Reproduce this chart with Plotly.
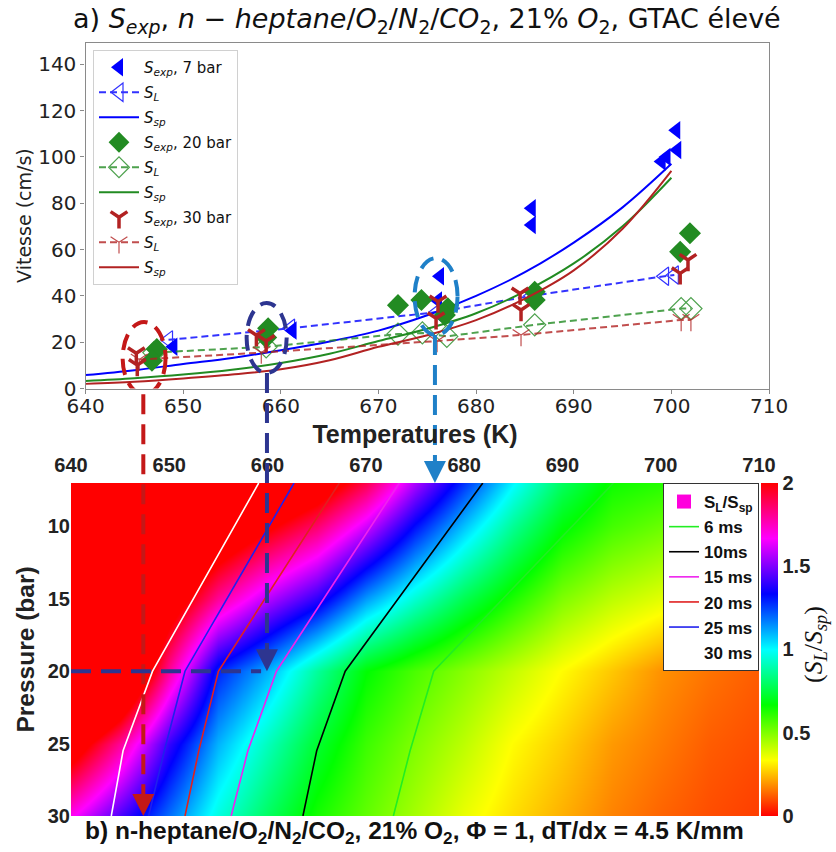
import plotly.graph_objects as go

# ---------------- top panel data (a) ----------------
T_exp7 = [649.0, 661.2, 676.3, 676.1, 685.7, 685.7, 700.5, 700.6, 699.5, 699.0]
V_exp7 = [18.0, 25.0, 48.5, 38.0, 77.8, 70.6, 111.5, 103.0, 100.0, 98.0]
T_SL7 = [648.5, 661.0, 676.0, 685.7, 699.3, 700.3]
V_SL7 = [21.0, 26.0, 33.0, 40.0, 48.5, 49.0]

T_exp20 = [647.3, 646.8, 658.7, 658.5, 672.0, 674.4, 677.1, 676.8, 686.0, 686.0, 701.9, 700.9]
V_exp20 = [17.0, 12.0, 26.0, 22.0, 36.0, 38.2, 34.6, 31.7, 41.8, 38.2, 67.0, 59.0]
T_SL20 = [647.0, 658.5, 672.0, 674.5, 677.0, 686.0, 701.0, 702.0]
V_SL20 = [15.5, 18.0, 23.5, 24.0, 22.5, 27.5, 34.5, 34.5]

T_exp30 = [645.2, 645.3, 657.5, 658.5, 676.1, 675.9, 684.5, 684.6, 701.7, 700.9]
V_exp30 = [15.2, 10.1, 23.0, 20.5, 37.5, 30.3, 41.0, 33.9, 55.5, 49.7]
T_SL30 = [645.5, 658.0, 676.0, 684.6, 701.0, 702.0]
V_SL30 = [12.5, 15.5, 20.5, 23.1, 29.6, 29.6]

T_sp = [640, 645, 650, 655, 660, 665, 670, 675, 680, 685, 690, 695, 700]
V_sp7 = [5.8, 7.9, 10.6, 13.2, 16.5, 20.3, 25.0, 31.6, 40.0, 50.2, 63.0, 78.2, 97.0]
V_sp20 = [3.2, 4.4, 6.0, 8.1, 11.0, 15.0, 20.5, 25.8, 32.5, 41.9, 54.0, 70.0, 91.0]
V_sp30 = [2.0, 2.9, 4.3, 6.0, 8.3, 12.2, 18.0, 23.0, 29.5, 38.8, 51.0, 69.0, 94.0]

# ---------------- bottom panel data (b) ----------------
T_grid = [640, 645, 650, 655, 660, 665, 670, 675, 680, 685, 690, 695, 700, 705, 710]
P_grid = [7, 10, 15, 20, 25, 30]
ratio_P7 = [2.8, 2.7, 2.6, 2.45, 2.29, 2.14, 1.90, 1.56, 1.27, 1.01, 0.79, 0.65, 0.62, 0.58, 0.53]
ratio_P10 = [2.8, 2.67, 2.43, 2.22, 2.03, 1.86, 1.61, 1.32, 1.08, 0.86, 0.68, 0.58, 0.53, 0.48, 0.44]
ratio_P15 = [2.8, 2.53, 2.14, 1.80, 1.57, 1.39, 1.13, 0.94, 0.77, 0.63, 0.50, 0.42, 0.37, 0.32, 0.28]
ratio_P20 = [2.8, 2.40, 1.80, 1.29, 1.10, 0.87, 0.67, 0.57, 0.49, 0.41, 0.33, 0.26, 0.19, 0.15, 0.12]
ratio_P25 = [2.13, 1.80, 1.40, 1.10, 0.91, 0.73, 0.59, 0.50, 0.42, 0.33, 0.27, 0.20, 0.16, 0.12, 0.10]
ratio_P30 = [1.68, 1.43, 1.19, 0.96, 0.79, 0.64, 0.54, 0.45, 0.36, 0.29, 0.23, 0.17, 0.13, 0.10, 0.08]

P_ct = [7, 20, 25.5, 30]
ct_labels = ["6 ms", "10ms", "15 ms", "20 ms", "25 ms", "30 ms"]
T_6ms = [695.2, 676.9, 674.5, 672.8]
T_10ms = [681.9, 667.9, 665.0, 663.6]
T_15ms = [673.4, 660.9, 658.0, 656.3]
T_20ms = [667.3, 655.0, 653.0, 651.6]
T_25ms = [662.7, 651.6, 649.5, 647.9]
T_30ms = [659.1, 648.3, 645.3, 644.1]

# guide markers (circles on panel a, arrows to panel b)
T_mark_b = [647.36, 659.94, 677.03]     # vertical guide lines, panel b axis
P_mark = [30, 20, 7]                    # arrow tips on panel b

# ---------------- geometry ----------------
X1 = [0.1023, 0.9199]
Y1 = [0.5440, 0.9499]
X2 = [0.0849, 0.9079]
Y2 = [0.0423, 0.4331]
YMAX = 149.3

def xb(T):
    return X2[0] + (T - 640) / 70 * (X2[1] - X2[0])

def ya(V):
    return Y1[0] + V / YMAX * (Y1[1] - Y1[0])

def yb(P):
    return Y2[0] + (30 - P) / 23 * (Y2[1] - Y2[0])

BLUE = "#0000ff"
GREEN = "#228b22"
RED = "#b22222"
DV = "DejaVu Sans"
AR = "Liberation Sans"

fig = go.Figure()

def lab(s):
    return "<i>S</i><sub><i>" + s + "</i></sub>"

sets = [
    (T_exp7, V_exp7, T_SL7, V_SL7, V_sp7, BLUE, "triangle-left", "triangle-left-open", 16, "7 bar"),
    (T_exp20, V_exp20, T_SL20, V_SL20, V_sp20, GREEN, "diamond", "diamond-open", 17, "20 bar"),
    (T_exp30, V_exp30, T_SL30, V_SL30, V_sp30, RED, "y-down", "y-down-open", 14, "30 bar"),
]
g = 0
for Te, Ve, Tl, Vl, Vs, col, sym, osym, sz, pr in sets:
    if sym == "y-down":
        mk = dict(symbol=sym, size=sz, color=col, line=dict(color=col, width=3.5))
        mko = dict(symbol=sym, size=sz, color=col, line=dict(color=col, width=1.2))
    else:
        mk = dict(symbol=sym, size=sz, color=col, line=dict(width=0))
        mko = dict(symbol=osym, size=sz, color=col, line=dict(color=col, width=1.2))
    fig.add_trace(go.Scatter(x=T_sp, y=Vs, mode="lines", line=dict(color=col, width=2, shape="spline"),
                             name=lab("sp"), legend="legend", legendgroup="a%d" % (g + 2),
                             legendrank=g + 3))
    fig.add_trace(go.Scatter(x=Tl, y=Vl, mode="lines+markers", marker=mko, opacity=0.8,
                             line=dict(color=col, width=2, dash="7px,4px"),
                             name=lab("L"), legend="legend", legendgroup="a%d" % (g + 1),
                             legendrank=g + 2))
    fig.add_trace(go.Scatter(x=Te, y=Ve, mode="markers", marker=mk,
                             name=lab("exp") + ", " + pr, legend="legend", cliponaxis=False,
                             legendgroup="a%d" % g, legendrank=g + 1))
    g += 3

# ---------------- heatmap ----------------
hsv = [[0, "#ff0000"], [1/6, "#ffff00"], [2/6, "#00ff00"], [0.5, "#00ffff"],
       [4/6, "#0000ff"], [5/6, "#ff00ff"], [1, "#ff0000"]]
fig.add_trace(go.Heatmap(
    x=T_grid, y=P_grid,
    z=[ratio_P7, ratio_P10, ratio_P15, ratio_P20, ratio_P25, ratio_P30],
    zmin=0, zmax=2, zsmooth="best", colorscale=hsv, xaxis="x2", yaxis="y2",
    showscale=True, showlegend=False, hoverinfo="skip",
    colorbar=dict(x=761 / 836, xanchor="left", xpad=0, ypad=0, y=Y2[1], yanchor="top",
                  len=(Y2[1] - Y2[0]), lenmode="fraction", thickness=17, outlinewidth=0,
                  tickvals=[0, 0.5, 1, 1.5, 2], ticktext=["0", "0.5", "1", "1.5", "2"],
                  ticks="", tickfont=dict(family=AR, size=20, color="#222", weight="bold")),
))

fig.add_trace(go.Scatter(x=[None], y=[None], mode="markers", xaxis="x2", yaxis="y2",
                         marker=dict(symbol="square", size=14, color="#ff00dd"),
                         name="S<sub>L</sub>/S<sub>sp</sub>", legend="legend2", legendgroup="b0"))
ct_T = [T_6ms, T_10ms, T_15ms, T_20ms, T_25ms, T_30ms]
ct_col = ["#22ee22", "#000000", "#ee22ee", "#e02020", "#2020ee", "#ffffff"]
for i, (name, Tc, c) in enumerate(zip(ct_labels, ct_T, ct_col)):
    fig.add_trace(go.Scatter(x=Tc, y=P_ct, mode="lines", xaxis="x2", yaxis="y2",
                             line=dict(color=c, width=1.6), name=name, legend="legend2",
                             legendgroup="b%d" % (i + 1), hoverinfo="skip"))

# ---------------- guides ----------------
guide_cols = ["#c41818", "#2d3590", "#1f80c8"]
circ = [(643.8, 648.2, -2.5, 28.7), (656.5, 660.6, 6.7, 36.9), (673.7, 678.1, 23.1, 56.3)]
shapes = []
for (x0, x1, y0, y1), c in zip(circ, guide_cols):
    shapes.append(dict(type="circle", xref="x", yref="y", x0=x0, x1=x1, y0=y0, y1=y1,
                       line=dict(color=c, width=4, dash="16px,9px")))
starts = [-2.5, 6.7, 23.1]
for Tb, P, c, s in zip(T_mark_b, P_mark, guide_cols, starts):
    shapes.append(dict(type="line", xref="paper", yref="paper", x0=xb(Tb), x1=xb(Tb),
                       y0=ya(s), y1=yb(P - 0.8) if P > 7 else yb(P) + 0.02,
                       line=dict(color=c, width=4, dash="20px,10px")))
shapes.append(dict(type="line", xref="x2", yref="y2", x0=640, x1=T_mark_b[1] - 0.6, y0=20, y1=20,
                   line=dict(color=guide_cols[1], width=4, dash="20px,10px")))

annotations = []
for Tb, P, c in zip(T_mark_b, P_mark, guide_cols):
    annotations.append(dict(x=Tb, y=P, xref="x2", yref="y2", text="", showarrow=True,
                            ax=0, ay=-14, arrowhead=2, arrowsize=1.1, arrowwidth=4, arrowcolor=c))

title_a = ("a) " + lab("exp") + ", <i>n − heptane</i>/<i>O</i><sub>2</sub>/<i>N</i><sub>2</sub>/"
           "<i>CO</i><sub>2</sub>, 21% <i>O</i><sub>2</sub>, GTAC élevé")
annotations.append(dict(x=(X1[0] + X1[1]) / 2, y=1 - 20 / 852, xref="paper", yref="paper",
                        text=title_a, showarrow=False, xanchor="center", yanchor="middle",
                        font=dict(family=DV, size=27, color="#111")))
title_b = ("b) n-heptane/O<sub>2</sub>/N<sub>2</sub>/CO<sub>2</sub>, 21% O<sub>2</sub>, "
           "Φ = 1, dT/dx = 4.5 K/mm")
annotations.append(dict(x=(X2[0] + X2[1]) / 2, y=1 - 832 / 852, xref="paper", yref="paper",
                        text=title_b, showarrow=False, xanchor="center", yanchor="middle",
                        font=dict(family=AR, size=24.5, color="#111", weight="bold")))
annotations.append(dict(x=815 / 836, y=1 - 645 / 852, xref="paper", yref="paper",
                        text="(<i>S</i><sub><i>L</i></sub>/<i>S</i><sub><i>sp</i></sub>)",
                        showarrow=False, textangle=-90, xanchor="center", yanchor="middle",
                        font=dict(family="Liberation Serif", size=26, color="#111")))

fig.update_layout(
    width=836, height=852, margin=dict(l=0, r=0, t=0, b=0, autoexpand=False),
    paper_bgcolor="white", plot_bgcolor="white",
    shapes=shapes, annotations=annotations,
    xaxis=dict(domain=X1, anchor="y", range=[640, 710], tickvals=[640, 650, 660, 670, 680, 690, 700, 710],
               showline=True, mirror=True, linecolor="#8a8a8a", linewidth=1.3, ticks="outside",
               ticklen=4, tickcolor="#8a8a8a", showgrid=False, zeroline=False, automargin=False,
               ticklabelstandoff=-5,
               tickfont=dict(family=DV, size=20, color="#222")),
    yaxis=dict(domain=Y1, anchor="x", range=[0, YMAX], tickvals=[0, 20, 40, 60, 80, 100, 120, 140],
               showline=True, mirror=True, linecolor="#8a8a8a", linewidth=1.3, ticks="outside",
               ticklen=4, tickcolor="#8a8a8a", showgrid=False, zeroline=False, automargin=False,
               tickfont=dict(family=DV, size=20, color="#222"),
               title=dict(text="Vitesse (cm/s)", font=dict(family=DV, size=19, color="#222"), standoff=1)),
    xaxis2=dict(domain=X2, anchor="y2", side="top", range=[640, 710], automargin=False,
                tickvals=[640, 650, 660, 670, 680, 690, 700, 710], showgrid=False, zeroline=False,
                showline=False, ticks="", ticklabelstandoff=6,
                tickfont=dict(family=AR, size=20, color="#222", weight="bold"),
                title=dict(text="Temperatures (K)", font=dict(family=AR, size=25, color="#222", weight="bold"),
                           standoff=3)),
    yaxis2=dict(domain=Y2, anchor="x2", range=[30, 7], tickvals=[10, 15, 20, 25, 30], automargin=False,
                showgrid=False, zeroline=False, showline=False, ticks="",
                tickfont=dict(family=AR, size=20, color="#222", weight="bold"),
                title=dict(text="Pressure (bar)", font=dict(family=AR, size=24.5, color="#222", weight="bold"),
                           standoff=6)),
    legend=dict(x=93 / 836, y=1 - 50 / 852, xanchor="left", yanchor="top", bgcolor="rgba(255,255,255,0.9)",
                bordercolor="#d0d0d0", borderwidth=1, font=dict(family=DV, size=15, color="#111"),
                itemwidth=40, tracegroupgap=2.5, itemsizing="trace", traceorder="grouped"),
    legend2=dict(x=759 / 836, y=Y2[1], xanchor="right", yanchor="top", bgcolor="white",
                 bordercolor="#333", borderwidth=1,
                 font=dict(family=AR, size=17, color="#111", weight="bold"), itemwidth=30,
                 tracegroupgap=0, traceorder="grouped"),
)

fig.write_html("out.html", config={"displayModeBar": False},
               post_script="document.body.style.margin='0';document.body.style.overflow='hidden';")
